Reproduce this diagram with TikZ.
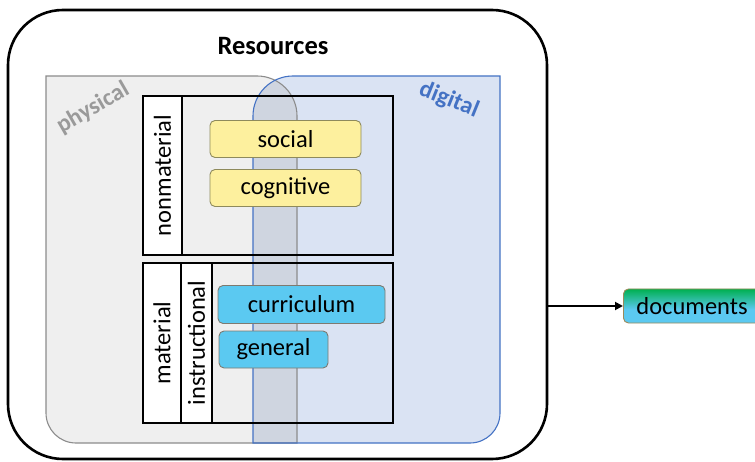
\documentclass[tikz,border=0pt]{standalone}
\usepackage{fontspec}
\setmainfont{Carlito}
\usetikzlibrary{arrows.meta,calc}
\definecolor{physfill}{HTML}{EFEFEF}
\definecolor{physline}{HTML}{8C8C8C}
\definecolor{phystext}{HTML}{9A9A9A}
\definecolor{digfill}{HTML}{DAE3F3}
\definecolor{digline}{HTML}{4472C4}
\definecolor{bothfill}{HTML}{CFD5E0}
\definecolor{yellowfill}{HTML}{FDF09E}
\definecolor{yellowline}{HTML}{8E8A5C}
\definecolor{cyanfill}{HTML}{5BC9F1}
\definecolor{cyanline}{HTML}{7E7A70}
\definecolor{docgreen}{HTML}{00B050}
\definecolor{docline}{HTML}{9C8A5A}
\pgfdeclareverticalshading{docshade}{100bp}{
  color(0bp)=(cyanfill); color(45bp)=(cyanfill); color(75bp)=(docgreen); color(100bp)=(docgreen)}
\tikzset{
  x=1pt, y=1pt,
  lbl/.style={font=\fontsize{24.5}{26}\selectfont, text=black, inner sep=0pt},
  groupbox/.style={draw=black, line width=1.6pt, inner sep=0pt},
  sidebox/.style={draw=black, fill=white, line width=1.6pt, inner sep=0pt},
  yellowbox/.style={lbl, draw=yellowline, fill=yellowfill, line width=0.9pt,
    rounded corners=5pt, minimum height=37pt},
  cyanbox/.style={lbl, draw=cyanline, fill=cyanfill, line width=0.9pt,
    rounded corners=5pt, minimum height=38pt},
}
\begin{document}
\begin{tikzpicture}
\useasboundingbox (0,0) rectangle (755,461);

% outer container
\node[draw=black, line width=2.6pt, rounded corners=55pt, minimum width=539pt,
      minimum height=449pt, inner sep=0pt] (outer) at (277.5,226.5) {};
\node[font=\fontsize{26.5}{28}\selectfont\bfseries] (title) at (273,415) {Resources};

% physical and digital regions
\def\physpath{(46,385) -- (257,385) arc[start angle=90, end angle=0, radius=40]
  -- (297,18) -- (76,18) arc[start angle=270, end angle=180, radius=30] -- cycle}
\def\digpath{(253,18) -- (253,345) arc[start angle=180, end angle=90, radius=40]
  -- (500,385) -- (500,48) arc[start angle=0, end angle=-90, radius=30] -- cycle}
\fill[physfill] \physpath;
\fill[digfill] \digpath;
\begin{scope}
  \clip \physpath;
  \fill[bothfill] \digpath;
\end{scope}
\draw[physline, line width=1.1pt] \physpath;
\draw[digline, line width=1.1pt] \digpath;

\node[font=\fontsize{24}{26}\selectfont\bfseries, text=phystext, rotate=30] (phys) at (93,353) {physical};
\node[font=\fontsize{24}{26}\selectfont\bfseries, text=digline, rotate=-22] (dig) at (449,361) {digital};

% nonmaterial group
\node[groupbox, minimum width=250pt, minimum height=159pt] (nonmat) at (268,285.5) {};
\node[sidebox, minimum width=39pt, minimum height=159pt] (nonmatlbl) at (162.5,285.5) {};
\node[lbl, rotate=90] at (nonmatlbl) {nonmaterial};
\node[yellowbox, minimum width=151pt] (social) at (285.5,322) {social};
\node[yellowbox, minimum width=151pt] (cognitive) at (285.5,273) {cognitive};

% material group
\node[groupbox, minimum width=250pt, minimum height=160pt] (mat) at (268,118) {};
\node[sidebox, minimum width=38pt, minimum height=160pt] (matlbl) at (162,118) {};
\node[lbl, rotate=90] at (matlbl) {material};
\node[sidebox, minimum width=31pt, minimum height=160pt] (instrlbl) at (196.5,118) {};
\node[lbl, rotate=90] at (instrlbl) {instructional};
\node[cyanbox, minimum width=167pt] (curriculum) at (301.5,156.5) {curriculum};
\node[cyanbox, minimum width=109pt, minimum height=37pt] (general) at (273.5,111.5) {general};

% output document
\node[lbl, draw=docline, line width=0.9pt, rounded corners=5pt, shading=docshade,
      minimum width=142pt, minimum height=34pt, anchor=west, text width=142pt,
      align=left] (docs) at (623,155) {\hspace*{13pt}documents};
\coordinate (outerR) at (outer.east |- docs.west);
\draw[line width=1.8pt, -{Triangle[length=8pt, width=8pt]}] (outerR) -- (docs.west);
\end{tikzpicture}
\end{document}
